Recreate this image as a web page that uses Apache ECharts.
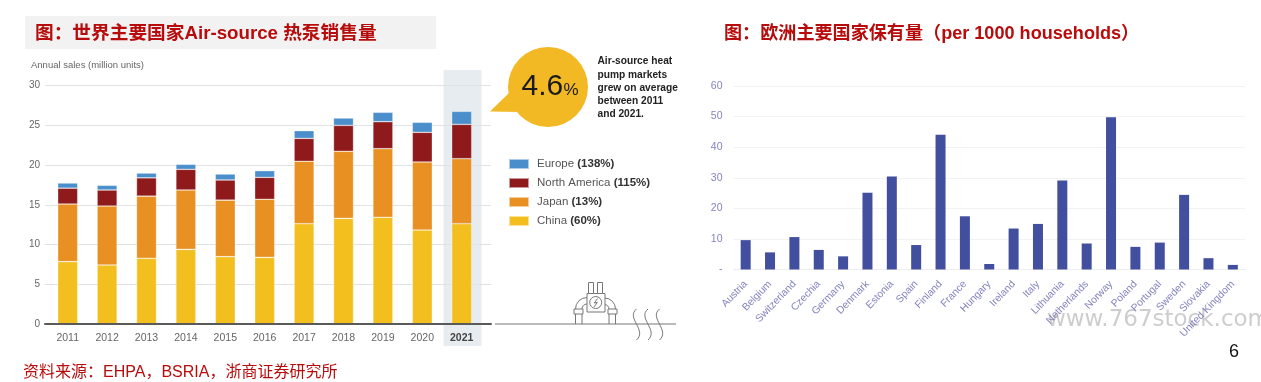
<!DOCTYPE html>
<html>
<head>
<meta charset="utf-8">
<style>
  html, body { margin: 0; padding: 0; background: #fff; }
  #chart { width: 1261px; height: 382px; }
</style>
<script src="https://cdn.jsdelivr.net/npm/echarts@6/dist/echarts.min.js"></script>
</head>
<body>
<div id="chart"></div>
<script>
// left chart: annual sales (million units)
const years = ['2011', '2012', '2013', '2014', '2015', '2016', '2017', '2018', '2019', '2020', '2021'];
const china = [7.85, 7.43, 8.27, 9.4, 8.48, 8.39, 12.63, 13.3, 13.43, 11.83, 12.63];
const japan = [7.25, 7.42, 7.83, 7.47, 7.12, 7.31, 7.85, 8.44, 8.64, 8.56, 8.18];
const northAmerica = [2.0, 2.02, 2.3, 2.6, 2.53, 2.76, 2.89, 3.26, 3.4, 3.74, 4.32];
const europe = [0.65, 0.59, 0.6, 0.63, 0.75, 0.84, 0.97, 0.93, 1.18, 1.26, 1.64];
const growth = { 'Europe': '138%', 'North America': '115%', 'Japan': '13%', 'China': '60%' };

// right chart: stock per 1000 households
const countries = ['Austria', 'Belgium', 'Switzerland', 'Czechia', 'Germany', 'Denmark', 'Estonia', 'Spain', 'Finland', 'France', 'Hungary', 'Ireland', 'Italy', 'Lithuania', 'Netherlands', 'Norway', 'Poland', 'Portugal', 'Sweden', 'Slovakia', 'United Kingdom'];
const stock = [9.6, 5.6, 10.6, 6.4, 4.3, 25.1, 30.4, 8.0, 44.1, 17.4, 1.8, 13.4, 14.9, 29.1, 8.5, 49.8, 7.4, 8.8, 24.4, 3.7, 1.5];

const FONT = '"Liberation Sans", "Noto Sans CJK SC", sans-serif';
const RED = '#b80c0c';
const ICON = '#777';
const H = 382, W = 1261;

function stackBar(name, data, color) {
  return {
    name, type: 'bar', stack: 'sales', xAxisIndex: 1, yAxisIndex: 1, data,
    barWidth: 20,
    itemStyle: { color, borderColor: 'rgba(255,255,255,0.55)', borderWidth: 0.6 }
  };
}

const line = (x1, y1, x2, y2) => ({
  type: 'line', shape: { x1, y1, x2, y2 },
  style: { stroke: ICON, lineWidth: 1, fill: null }, z: 5
});
const wave = x => ({
  type: 'bezierCurve',
  shape: { x1: x, y1: 309, cpx1: x - 11, cpy1: 318, cpx2: x + 11, cpy2: 330, x2: x, y2: 340 },
  style: { stroke: ICON, lineWidth: 1, fill: null }, z: 5
});
const box = (x, y, width, height) => ({
  type: 'rect', shape: { x, y, width, height },
  style: { stroke: ICON, lineWidth: 1, fill: '#fff' }, z: 6
});
const arc = (cx, cy, r, startAngle, endAngle) => ({
  type: 'arc', shape: { cx, cy, r, startAngle, endAngle, clockwise: true },
  style: { stroke: ICON, lineWidth: 1, fill: null }, z: 5
});
const text = (x, y, t, size, opts) => ({
  type: 'text', x, y,
  style: Object.assign({ text: t, font: size + 'px ' + FONT, fill: '#222', textVerticalAlign: 'middle' }, opts),
  z: 8
});

const option = {
  animation: false,
  backgroundColor: '#fff',
  textStyle: { fontFamily: FONT },
  grid: [
    { left: 45, width: 446, top: 85.7, height: 238.3 },
    { left: 48, width: 433.4, top: 85.7, height: 238.3 },
    { left: 733.5, width: 511.5, top: 86, height: 183.5 }
  ],
  xAxis: [
    {
      gridIndex: 0, type: 'value', min: 0, max: 1, z: 4,
      axisLabel: { show: false }, axisTick: { show: false }, splitLine: { show: false },
      axisLine: { lineStyle: { color: '#5a5a5a', width: 2 } }
    },
    {
      gridIndex: 1, type: 'category', data: years.map(y => y === '2021' ? { value: y, textStyle: { fontWeight: 'bold', color: '#444' } } : y),
      axisLine: { show: false }, axisTick: { show: false }, axisLabel: { color: '#666', fontSize: 10.5, margin: 9, interval: 0 }
    },
    {
      gridIndex: 2, type: 'category', data: countries,
      axisLine: { lineStyle: { color: '#eceef4' } }, axisTick: { show: false },
      axisLabel: { color: '#8484c0', fontSize: 10.3, rotate: 46, margin: 13, interval: 0 }
    }
  ],
  yAxis: [
    {
      gridIndex: 0, type: 'value', min: 0, max: 30, interval: 5,
      axisLine: { show: false }, axisTick: { show: false },
      axisLabel: { color: '#666', fontSize: 10, margin: 5 },
      splitLine: { lineStyle: { color: '#e0e2e4' } }
    },
    { gridIndex: 1, type: 'value', min: 0, max: 30, show: false },
    {
      gridIndex: 2, type: 'value', min: 0, max: 60, interval: 10,
      axisLine: { show: false }, axisTick: { show: false },
      axisLabel: { color: '#8484c0', fontSize: 10.5, margin: 11, formatter: v => v === 0 ? '-' : v },
      splitLine: { lineStyle: { color: '#f1f2f6' } }
    }
  ],
  legend: {
    left: 508, top: 158, padding: 0, orient: 'vertical', itemWidth: 20, itemHeight: 10, itemGap: 7,
    icon: 'rect',
    data: ['Europe', 'North America', 'Japan', 'China'],
    formatter: name => name + ' {b|(' + growth[name] + ')}',
    textStyle: {
      color: '#555', fontSize: 11.5, fontFamily: FONT, padding: [0, 0, 0, 3],
      rich: { b: { fontWeight: 'bold', color: '#333', fontSize: 11.5, fontFamily: FONT } }
    }
  },
  series: [
    stackBar('China', china, '#f3bf1f'),
    stackBar('Japan', japan, '#e89021'),
    stackBar('North America', northAmerica, '#8e1a1c'),
    stackBar('Europe', europe, '#4a8fcb'),
    {
      name: 'Stock', type: 'bar', xAxisIndex: 2, yAxisIndex: 2, data: stock,
      barWidth: 10, itemStyle: { color: '#424e9e' }
    }
  ],
  graphic: [
    // header strip and 2021 highlight sit behind everything
    { type: 'rect', shape: { x: 25, y: 16, width: 411, height: 33 }, style: { fill: '#f2f2f2' }, z: -1 },
    { type: 'rect', shape: { x: 443.5, y: 70, width: 38, height: 276 }, style: { fill: '#e7ecf0' }, z: -1 },

    text(35, 33.5, '图：世界主要国家Air-source 热泵销售量', 19, { font: 'bold 18.7px ' + FONT, fill: RED }),
    text(724, 33.5, '图：欧洲主要国家保有量（per 1000 households）', 18, { font: 'bold 18.1px ' + FONT, fill: RED }),
    text(23, 373, '资料来源：EHPA，BSRIA，浙商证券研究所', 16, { fill: RED }),
    text(31, 65, 'Annual sales (million units)', 9.5, { fill: '#666' }),

    // callout bubble
    { type: 'circle', shape: { cx: 548, cy: 87, r: 40 }, style: { fill: '#f2b925' }, z: 4 },
    { type: 'polygon', shape: { points: [[490, 111.5], [510, 92], [522, 112]] }, style: { fill: '#f2b925' }, z: 4 },
    text(521.5, 87, '4.6', 30, { fill: '#1a1a1a' }),
    text(563.5, 90, '%', 17, { fill: '#1a1a1a' }),
    text(597.5, 61.5, 'Air-source heat', 10, { font: 'bold 10.2px ' + FONT }),
    text(597.5, 75, 'pump markets', 10, { font: 'bold 10.2px ' + FONT }),
    text(597.5, 88, 'grew on average', 10, { font: 'bold 10.2px ' + FONT }),
    text(597.5, 101, 'between 2011', 10, { font: 'bold 10.2px ' + FONT }),
    text(597.5, 114.5, 'and 2021.', 10, { font: 'bold 10.2px ' + FONT }),

    // heat pump icon and ground line
    line(495, 324, 676, 324),
    line(575.5, 312, 575.5, 324), line(582, 312, 582, 324),
    line(609, 312, 609, 324), line(615.5, 312, 615.5, 324),
    arc(587, 309, 11.5, Math.PI, Math.PI * 1.5),
    arc(587, 309, 5, Math.PI, Math.PI * 1.5),
    arc(604.5, 309, 11, Math.PI * 1.5, Math.PI * 2),
    arc(604.5, 309, 4.5, Math.PI * 1.5, Math.PI * 2),
    box(574, 309, 9, 5), box(608, 309, 9, 5),
    box(587, 293.5, 18, 18.5),
    box(588.5, 282.5, 5, 11), box(597.5, 282.5, 5, 11),
    line(588.5, 287, 593.5, 287), line(597.5, 287, 602.5, 287),
    { type: 'circle', shape: { cx: 595.7, cy: 302.5, r: 6 }, style: { stroke: ICON, fill: '#fff' }, z: 7 },
    { type: 'polyline', shape: { points: [[597.5, 298.5], [594.3, 303], [597.3, 302.5], [594, 307]] }, style: { stroke: ICON, fill: null }, z: 7 },
    wave(636.5), wave(648), wave(659.5),

    // watermark and page number
    text(1047, 320, 'www.767stock.com', 23, { fill: 'rgba(130,130,130,0.4)', font: '23px "DejaVu Sans"' }),
    text(1229, 352, '6', 18, { fill: '#111' })
  ]
};

const chart = echarts.init(document.getElementById('chart'), null, { renderer: 'canvas', width: W, height: H });
chart.setOption(option);
</script>
</body>
</html>
